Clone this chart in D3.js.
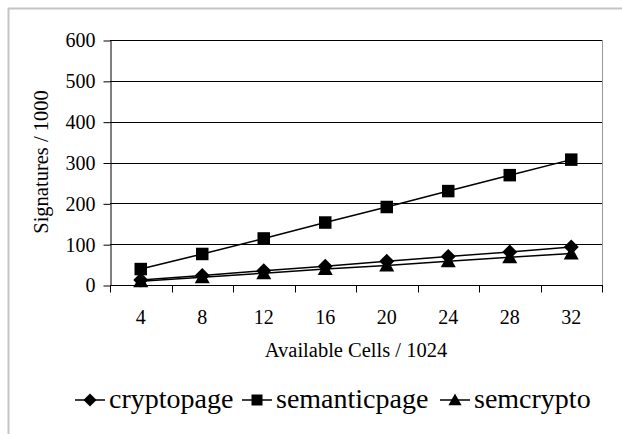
<!DOCTYPE html>
<html>
<head>
<meta charset="utf-8">
<script src="https://cdn.jsdelivr.net/npm/d3@7"></script>
<style>
  html, body { margin: 0; padding: 0; background: #fff; }
  svg { display: block; }
</style>
</head>
<body>
<svg id="chart" width="622" height="434"></svg>
<script>
const categories = ["4", "8", "12", "16", "20", "24", "28", "32"];
const cryptopage = [12, 23, 35, 46, 58, 70, 81, 93];
const semanticpage = [39, 76, 114, 153, 191, 230, 269, 307];
const semcrypto = [9, 19, 29, 39, 48, 58, 68, 77];
const yTicks = [0, 100, 200, 300, 400, 500, 600];
const seriesNames = ["cryptopage", "semanticpage", "semcrypto"];

const FONT = "'Liberation Serif', 'Times New Roman', Times, serif";

const series = [
  { name: seriesNames[0], values: cryptopage, shape: "diamond" },
  { name: seriesNames[1], values: semanticpage, shape: "square" },
  { name: seriesNames[2], values: semcrypto, shape: "triangle" }
];

const svg = d3.select("#chart");
const L = 110, R = 602, T = 40, B = 285;

// outer frame (top + left visible)
svg.append("line").attr("x1", 8).attr("x2", 622).attr("y1", 8.5).attr("y2", 8.5)
  .attr("stroke", "#c4c4c4").attr("stroke-width", 2);
svg.append("line").attr("x1", 8.5).attr("x2", 8.5).attr("y1", 8).attr("y2", 434)
  .attr("stroke", "#c4c4c4").attr("stroke-width", 2);

const x = d3.scaleBand().domain(categories).range([L, R]).padding(0);
const y = d3.scaleLinear().domain([0, 600]).range([B, T]);

// gridlines
svg.append("g").selectAll("line").data(yTicks.filter(d => d > 0)).join("line")
  .attr("x1", L).attr("x2", R)
  .attr("y1", d => Math.round(y(d)) + 0.5).attr("y2", d => Math.round(y(d)) + 0.5)
  .attr("stroke", "#000").attr("stroke-width", 1);

// right border of plot area
svg.append("line").attr("x1", R + 0.5).attr("x2", R + 0.5).attr("y1", T).attr("y2", B)
  .attr("stroke", "#999").attr("stroke-width", 1);

// y axis
const yAxis = svg.append("g").attr("transform", `translate(${L + 0.5},0.5)`)
  .call(d3.axisLeft(y).tickValues(yTicks).tickSize(7).tickPadding(8).tickSizeOuter(0));
yAxis.attr("font-family", null).attr("font-size", null);
yAxis.select(".domain").attr("stroke", "#000");
yAxis.selectAll(".tick line").attr("stroke", "#000");
yAxis.selectAll("text").style("font-size", "20px").style("font-family", FONT).attr("fill", "#000");

// x axis: boundary ticks
const xAxisG = svg.append("g").attr("transform", `translate(0,${B + 0.5})`);
xAxisG.append("line").attr("x1", L).attr("x2", R + 1).attr("y1", 0).attr("y2", 0).attr("stroke", "#000");
const bounds = categories.map(c => x(c)).concat([R]);
xAxisG.selectAll("line.tk").data(bounds).join("line").attr("class", "tk")
  .attr("x1", d => Math.round(d) + 0.5).attr("x2", d => Math.round(d) + 0.5)
  .attr("y1", 0).attr("y2", 7).attr("stroke", "#000");
xAxisG.selectAll("text").data(categories).join("text")
  .attr("x", d => x(d) + x.bandwidth() / 2)
  .attr("y", 38)
  .attr("text-anchor", "middle")
  .style("font-size", "20px").style("font-family", FONT)
  .text(d => d);

// axis titles
svg.append("text").attr("x", (L + R) / 2).attr("y", 357).attr("text-anchor", "middle")
  .style("font-size", "20.5px").style("font-family", FONT).text("Available Cells / 1024");
svg.append("text").attr("transform", "translate(48,162) rotate(-90)").attr("text-anchor", "middle")
  .style("font-size", "20.5px").style("font-family", FONT).text("Signatures / 1000");

// marker generator
function marker(g, shape, size) {
  if (shape === "square") {
    g.append("rect").attr("x", -size / 2).attr("y", -size / 2).attr("width", size).attr("height", size).attr("fill", "#000");
  } else if (shape === "diamond") {
    const s = size * 0.6;
    g.append("path").attr("d", `M0,${-s}L${s},0L0,${s}L${-s},0Z`).attr("fill", "#000");
  } else {
    const s = size * 0.6;
    g.append("path").attr("d", `M0,${-s}L${s},${s * 0.8}L${-s},${s * 0.8}Z`).attr("fill", "#000");
  }
}

const line = d3.line()
  .x((d, i) => x(categories[i]) + x.bandwidth() / 2)
  .y(d => y(d));

series.forEach(s => {
  svg.append("path").datum(s.values).attr("d", line)
    .attr("fill", "none").attr("stroke", "#000").attr("stroke-width", 1.5);
});
series.forEach(s => {
  s.values.forEach((v, i) => {
    const g = svg.append("g").attr("transform", `translate(${x(categories[i]) + x.bandwidth() / 2},${y(v)})`);
    marker(g, s.shape, 12.5);
  });
});

// legend
const legendStarts = [75, 242, 440];
series.forEach((s, i) => {
  const lx = legendStarts[i], ly = 400;
  const g = svg.append("g");
  g.append("line").attr("x1", lx).attr("x2", lx + 30).attr("y1", ly).attr("y2", ly)
    .attr("stroke", "#000").attr("stroke-width", 1.5);
  const m = g.append("g").attr("transform", `translate(${lx + 15},${ly})`);
  marker(m, s.shape, 11);
  g.append("text").attr("x", lx + 34).attr("y", 408)
    .style("font-size", "28px").style("font-family", FONT).text(s.name);
});
</script>
</body>
</html>
